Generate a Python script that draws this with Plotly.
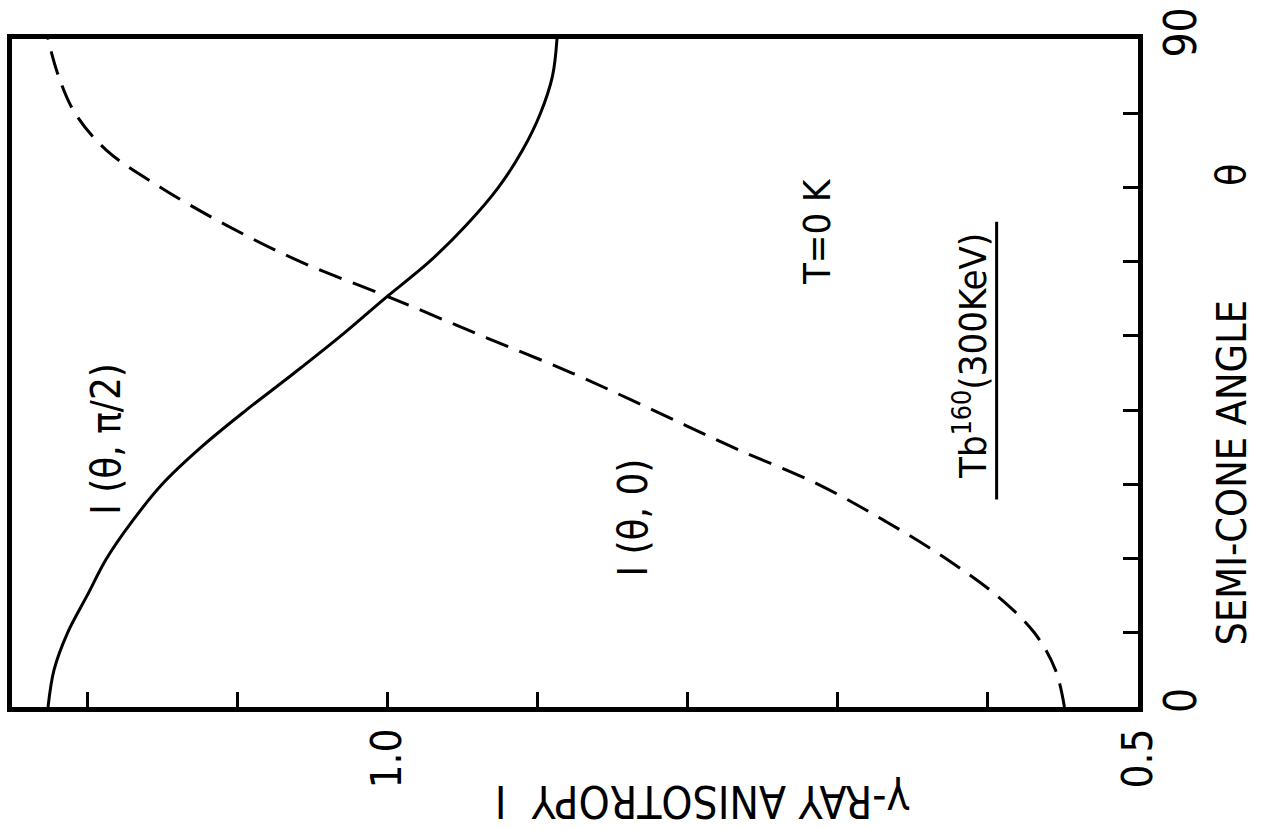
import plotly.graph_objects as go

# Semi-cone angle theta (degrees)
theta = [0, 5, 10, 15, 20, 25, 30, 35, 40, 45, 50, 55, 60, 65, 70, 75, 80, 85, 90]
# I(theta, pi/2) - solid curve
I_perp = [1.226, 1.222, 1.213, 1.200, 1.187, 1.170, 1.150, 1.124, 1.094, 1.062,
          1.031, 1.002, 0.972, 0.947, 0.926, 0.910, 0.898, 0.890, 0.887]
# I(theta, 0) - dashed curve
I_par = [0.549, 0.555, 0.569, 0.594, 0.628, 0.668, 0.713, 0.770, 0.823, 0.877,
         0.937, 0.996, 1.058, 1.108, 1.151, 1.187, 1.208, 1.219, 1.226]

I_labels = [0.5, 1.0]
I_labeltext = ["0.5", "1.0"]
I_tick_step = 0.1
theta_labels = [0, 90]
theta_labeltext = ["0", "90"]
theta_tick_step = 10

FONT = "Liberation Sans Narrow, DejaVu Sans Condensed, Arial Narrow, DejaVu Sans, sans-serif"

fig = go.Figure()
fig.add_trace(go.Scatter(x=I_perp, y=theta, mode="lines", line_shape="spline",
                         line=dict(color="black", width=3), showlegend=False))
fig.add_trace(go.Scatter(x=I_par, y=theta, mode="lines", line_shape="spline",
                         line=dict(color="black", width=3, dash="24px,12px"), showlegend=False))

W, H = 1263, 829
L, R, T, B = 7, 1138, 31, 707

def px(x):
    return (x - L) / (R - L)

def py(y):
    return (B - y) / (B - T)

tick_style = dict(ticks="inside", ticklen=15, tickwidth=3, tickcolor="black")

fig.update_layout(
    width=W, height=H,
    margin=dict(l=L, r=W - R, t=T, b=H - B),
    plot_bgcolor="white", paper_bgcolor="white",
    font=dict(family=FONT, color="black", size=34),
    xaxis=dict(range=[1.25, 0.5], tickvals=I_labels, ticktext=I_labeltext,
               **tick_style,
               minor=dict(tick0=0.5, dtick=I_tick_step, **tick_style),
               tickangle=-90, showline=True, linewidth=4.5, linecolor="black",
               mirror=True, showgrid=False, zeroline=False,
               ticklabeloverflow="allow",
               tickfont=dict(size=42, family=FONT)),
    yaxis=dict(range=[0, 90], side="right", tickvals=theta_labels, ticktext=theta_labeltext,
               **tick_style,
               minor=dict(tick0=0, dtick=theta_tick_step, **tick_style),
               tickangle=-90, showline=True, linewidth=4.5, linecolor="black",
               mirror=True, showgrid=False, zeroline=False,
               ticklabeloverflow="allow",
               tickfont=dict(size=44, family=FONT)),
)

ann = [
    dict(text="SEMI-CONE ANGLE", x=px(1232), y=py(470), textangle=-90, size=41),
    dict(text="θ", x=px(1232), y=py(168), textangle=-90, size=41),
    dict(text="γ-RAY ANISOTROPY  I", x=px(700), y=py(802), textangle=180, size=44),
    dict(text="I (θ, π/2)", x=px(102), y=py(436), textangle=-90, size=40),
    dict(text="I (θ, 0)", x=px(631), y=py(515), textangle=-90, size=40),
    dict(text="T=0 K", x=px(815), y=py(226), textangle=-90, size=38),
    dict(text="Tb<sup>160</sup>(300KeV)", x=px(970), y=py(352), textangle=-90, size=38),
]
for a in ann:
    fig.add_annotation(text=a["text"], x=a["x"], y=a["y"], xref="paper", yref="paper",
                       showarrow=False, textangle=a["textangle"],
                       font=dict(family=FONT, size=a["size"], color="black"),
                       xanchor="center", yanchor="middle")

# underline beneath the Tb160 label
fig.add_shape(type="line", xref="paper", yref="paper",
              x0=px(996), x1=px(996), y0=py(216), y1=py(497),
              line=dict(color="black", width=3))

fig.write_html("out.html")
